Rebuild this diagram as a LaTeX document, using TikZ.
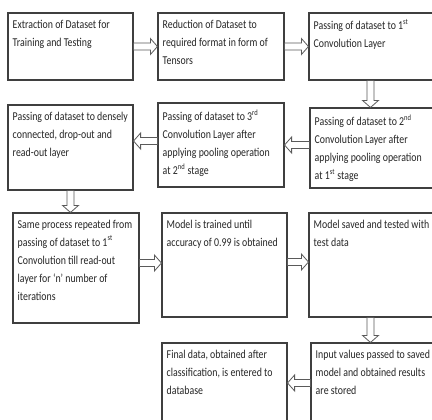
\documentclass[tikz,border=0pt]{standalone}
\usepackage{fontspec}
\setmainfont{Carlito}[FakeStretch=0.82]
\usetikzlibrary{calc}
\definecolor{boxline}{HTML}{3F3F3F}
\definecolor{arrline}{HTML}{5A5A5A}
\definecolor{txtcol}{HTML}{262626}
\tikzset{
  box/.style={draw=boxline, line width=0.8pt, inner sep=0pt, fill=white},
  txt/.style={anchor=north west, inner sep=0pt, align=left, text=txtcol,
    font=\fontsize{9}{13.5}\selectfont},
  barrow/.style={draw=arrline, line width=0.6pt, fill=white, line join=miter},
}
\newcommand\mkbox[5]{\node[box, minimum width={(#4-#2)*0.75pt}, minimum height={(#5-#3)*0.75pt}] (#1) at ({(#2+#4)/2},{(#3+#5)/2}) {};}
\newcommand\barrow[2]{\draw[barrow] let \p1=(#1), \p2=(#2),
  \n1={veclen(\x2-\x1,\y2-\y1)}, \n2={(\x2-\x1)/\n1}, \n3={(\y2-\y1)/\n1}, \n4={\n1-5.3} in
  ({\x1-2.6*\n3},{\y1+2.6*\n2}) --
  ({\x1+\n4*\n2-2.6*\n3},{\y1+\n4*\n3+2.6*\n2}) --
  ({\x1+\n4*\n2-6*\n3},{\y1+\n4*\n3+6*\n2}) --
  ({\x1+\n1*\n2},{\y1+\n1*\n3}) --
  ({\x1+\n4*\n2+6*\n3},{\y1+\n4*\n3-6*\n2}) --
  ({\x1+\n4*\n2+2.6*\n3},{\y1+\n4*\n3-2.6*\n2}) --
  ({\x1+2.6*\n3},{\y1-2.6*\n2}) -- cycle;}
\begin{document}
\begin{tikzpicture}[x=0.75pt,y=-0.75pt]
\clip (0,0) rectangle (432,419);
\fill[white] (0,0) rectangle (432,419);
% boxes
\mkbox{b1}{8}{13}{133}{80}
\mkbox{b2}{158}{13}{284}{80}
\mkbox{b3}{309}{13}{440}{80}
\mkbox{b4}{8}{105}{133}{190}
\mkbox{b5}{158}{103}{284}{187}
\mkbox{b6}{310}{108}{440}{188}
\mkbox{b7}{13}{213}{139}{323}
\mkbox{b8}{162}{213}{287}{317}
\mkbox{b9}{309}{213}{440}{317}
\mkbox{b10}{162}{343}{287}{440}
\mkbox{b11}{311}{343}{440}{440}
% texts
\node[txt] (t1) at ([shift={(5,7)}]b1.north west) {Extraction of Dataset for\\Training and Testing};
\node[txt] (t2) at ([shift={(5,7)}]b2.north west) {Reduction of Dataset to\\required format in form of\\Tensors};
\node[txt] (t3) at ([shift={(5,7)}]b3.north west) {Passing of dataset to 1\textsuperscript{st}\\Convolution Layer};
\node[txt] (t4) at ([shift={(5,7)}]b4.north west) {Passing of dataset to densely\\connected, drop-out and\\read-out layer};
\node[txt] (t5) at ([shift={(5,7)}]b5.north west) {Passing of dataset to 3\textsuperscript{rd}\\Convolution Layer after\\applying pooling operation\\at 2\textsuperscript{nd} stage};
\node[txt] (t6) at ([shift={(5,7)}]b6.north west) {Passing of dataset to 2\textsuperscript{nd}\\Convolution Layer after\\applying pooling operation\\at 1\textsuperscript{st} stage};
\node[txt] (t7) at ([shift={(5,7)}]b7.north west) {Same process repeated from\\passing of dataset to 1\textsuperscript{st}\\Convolution till read-out\\layer for ‘n’ number of\\iterations};
\node[txt] (t8) at ([shift={(5,7)}]b8.north west) {Model is trained until\\accuracy of 0.99 is obtained};
\node[txt] (t9) at ([shift={(5,7)}]b9.north west) {Model saved and tested with\\test data};
\node[txt] (t10) at ([shift={(5,7)}]b10.north west) {Final data, obtained after\\classification, is entered to\\database};
\node[txt] (t11) at ([shift={(5,7)}]b11.north west) {Input values passed to saved\\model and obtained results\\are stored};
% arrow anchor points
\coordinate (a12) at (b1.east);
\coordinate (a23) at (b2.east);
\coordinate (a36) at ([xshift=-3]b3.south);
\coordinate (a65) at ([yshift=2.25]b6.west);
\coordinate (a54) at ([yshift=3]b5.west);
\coordinate (a47) at (b4.south);
\coordinate (a78) at ([yshift=3.75]b7.east);
\coordinate (a89) at ([yshift=2.25]b8.east);
\coordinate (a911) at ([xshift=-3]b9.south);
\coordinate (a1110) at ([yshift=6.4]b11.west);
% block arrows
\barrow{a12}{a12 -| b2.west}
\barrow{a23}{a23 -| b3.west}
\barrow{a36}{a36 |- b6.north}
\barrow{a65}{a65 -| b5.east}
\barrow{a54}{a54 -| b4.east}
\barrow{a47}{a47 |- b7.north}
\barrow{a78}{a78 -| b8.west}
\barrow{a89}{a89 -| b9.west}
\barrow{a911}{a911 |- b11.north}
\barrow{a1110}{a1110 -| b10.east}
\end{tikzpicture}
\end{document}
